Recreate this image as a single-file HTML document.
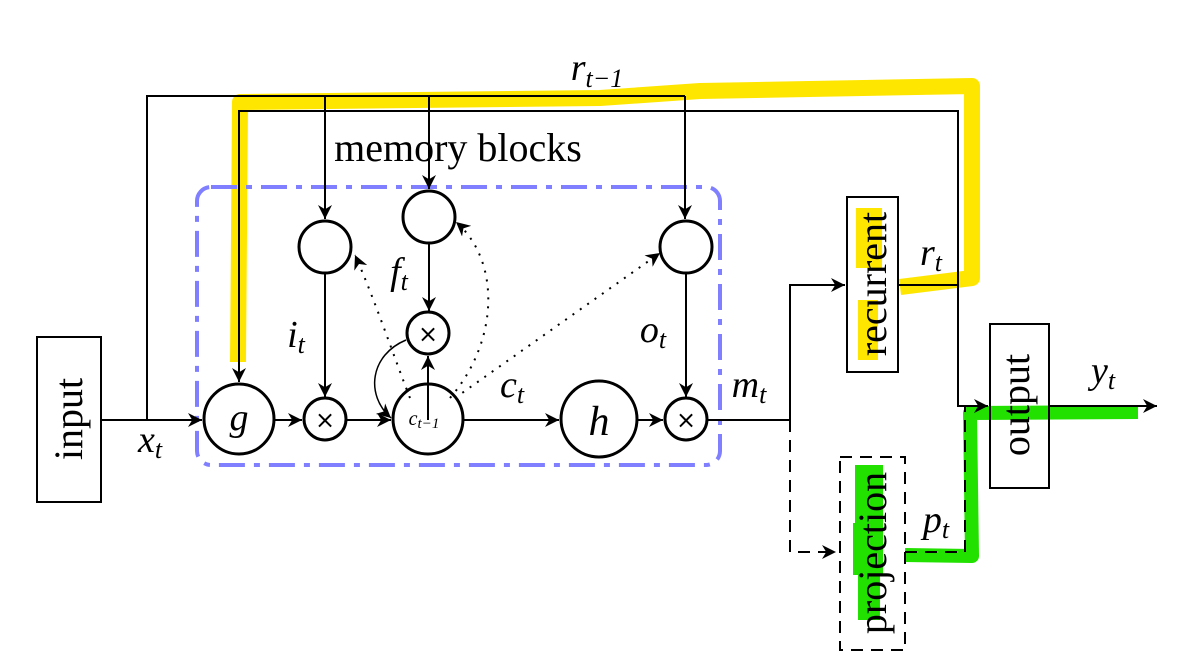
<!DOCTYPE html>
<html><head><meta charset="utf-8"><style>html,body{margin:0;padding:0;background:#fff}svg{display:block}</style></head>
<body>
<svg width="1197" height="664" viewBox="0 0 1197 664" xmlns="http://www.w3.org/2000/svg" font-family="'Liberation Serif',serif">
<defs>
<marker id="a" viewBox="0 0 10 10" refX="10" refY="5" markerWidth="14" markerHeight="14" markerUnits="userSpaceOnUse" orient="auto"><path d="M0,0 L10,5 L0,10 L3,5 z" fill="#000"/></marker>
</defs>
<path d="M238,362 L240,102 L600,98 L700,91 L972,86 L972,278 L900,287" fill="none" stroke="#ffe600" stroke-width="16" stroke-linejoin="round"/>
<rect x="856" y="208" width="26" height="60" fill="#ffe600"/>
<rect x="858" y="300" width="20" height="60" fill="#ffe600"/>
<path d="M905,555 L972,556 L970,413 L1138,412" fill="none" stroke="#22e000" stroke-width="14" stroke-linejoin="round"/>
<rect x="855" y="465" width="28" height="58" fill="#22e000"/>
<rect x="853" y="523" width="30" height="52" fill="#22e000"/>
<rect x="858" y="575" width="22" height="45" fill="#22e000"/>
<rect x="197" y="187" width="523" height="278" rx="14" fill="none" stroke="#7f7fff" stroke-width="4" stroke-dasharray="26,9,6,9"/>
<g stroke="#000" stroke-width="2" fill="none">
<polyline points="101,420 147,420 147,96 685,96"/>
<line x1="325" y1="96" x2="325" y2="219" marker-end="url(#a)"/>
<line x1="429" y1="96" x2="429" y2="189" marker-end="url(#a)"/>
<line x1="685" y1="96" x2="685" y2="219" marker-end="url(#a)"/>
<polyline points="239,382 239,111 958,111 958,406 988,406" marker-end="url(#a)"/>
<line x1="239" y1="300" x2="239" y2="382" marker-end="url(#a)"/>
<line x1="101" y1="420" x2="202" y2="420" marker-end="url(#a)"/>
<line x1="274" y1="420" x2="302" y2="420" marker-end="url(#a)"/>
<line x1="346" y1="420" x2="391" y2="420" marker-end="url(#a)"/>
<line x1="463" y1="420" x2="559" y2="420" marker-end="url(#a)"/>
<line x1="637" y1="420" x2="663" y2="420" marker-end="url(#a)"/>
<line x1="325" y1="273" x2="325" y2="397" marker-end="url(#a)"/>
<line x1="429" y1="243" x2="429" y2="311" marker-end="url(#a)"/>
<line x1="686" y1="273" x2="686" y2="397" marker-end="url(#a)"/>
<line x1="428" y1="420" x2="428" y2="356" marker-end="url(#a)"/>
<path d="M406,340 C370,355 365,395 391,418" stroke-width="1.5" marker-end="url(#a)"/>
<polyline points="707,420 790,420 790,285 845,285" marker-end="url(#a)"/>
<line x1="898" y1="285" x2="958" y2="285"/>
<line x1="1049" y1="406" x2="1157" y2="406" marker-end="url(#a)"/>
<polyline points="790,420 790,552 836,552" stroke-dasharray="12,8" marker-end="url(#a)"/>
<polyline points="905,552 965,552 965,406" stroke-dasharray="12,8"/>
<path d="M410,398 C395,360 375,300 355,255" stroke-dasharray="2,7" marker-end="url(#a)"/>
<path d="M450,398 C500,340 500,260 456,222" stroke-dasharray="2,7" marker-end="url(#a)"/>
<path d="M455,398 L660,253" stroke-dasharray="2,7" marker-end="url(#a)"/>
</g>
<g stroke="#000" stroke-width="3" fill="#fff">
<circle cx="239" cy="419" r="35"/>
<circle cx="325" cy="419" r="21"/>
<circle cx="428" cy="419" r="35" fill="none"/>
<circle cx="599" cy="419" r="38"/>
<circle cx="686" cy="419" r="21"/>
<circle cx="325" cy="247" r="26"/>
<circle cx="429" cy="217" r="26"/>
<circle cx="686" cy="247" r="26"/>
<circle cx="428" cy="333" r="21"/>
</g>
<g stroke="#000" stroke-width="2" fill="none">
<rect x="37" y="337" width="64" height="165"/>
<rect x="847" y="197" width="51" height="175"/>
<rect x="990" y="324" width="59" height="164"/>
<rect x="840" y="457" width="65" height="193" stroke-dasharray="12,8"/>
</g>
<g font-size="40" text-anchor="middle" fill="#000">
<text x="458" y="161">memory blocks</text>
<text transform="translate(82,419) rotate(-90)">input</text>
<text transform="translate(886,284) rotate(-90)">recurrent</text>
<text transform="translate(1029,405) rotate(-90)">output</text>
<text transform="translate(886,553) rotate(-90)">projection</text>
</g>
<g font-style="italic" font-size="38" fill="#000" text-anchor="middle">
<text x="239" y="430">g</text>
<text x="599" y="435" font-size="42">h</text>
<text x="150" y="452">x<tspan font-size="26" dy="6">t</tspan></text>
<text x="597" y="80">r<tspan font-size="26" dy="7">t−1</tspan></text>
<text x="399" y="284">f<tspan font-size="26" dy="6">t</tspan></text>
<text x="296" y="347">i<tspan font-size="26" dy="6">t</tspan></text>
<text x="653" y="342">o<tspan font-size="26" dy="6">t</tspan></text>
<text x="512" y="397">c<tspan font-size="26" dy="6">t</tspan></text>
<text x="749" y="397">m<tspan font-size="26" dy="6">t</tspan></text>
<text x="931" y="265">r<tspan font-size="26" dy="6">t</tspan></text>
<text x="936" y="532">p<tspan font-size="26" dy="6">t</tspan></text>
<text x="1103" y="383">y<tspan font-size="26" dy="6">t</tspan></text>
<text x="424" y="425" font-size="20">c<tspan font-size="15" dy="3">t−1</tspan></text>
</g>
<g font-size="24" fill="#000" text-anchor="middle" font-family="'DejaVu Sans',sans-serif">
<text x="325" y="428">×</text>
<text x="686" y="428">×</text>
<text x="428" y="342">×</text>
</g>
</svg>
</body></html>
